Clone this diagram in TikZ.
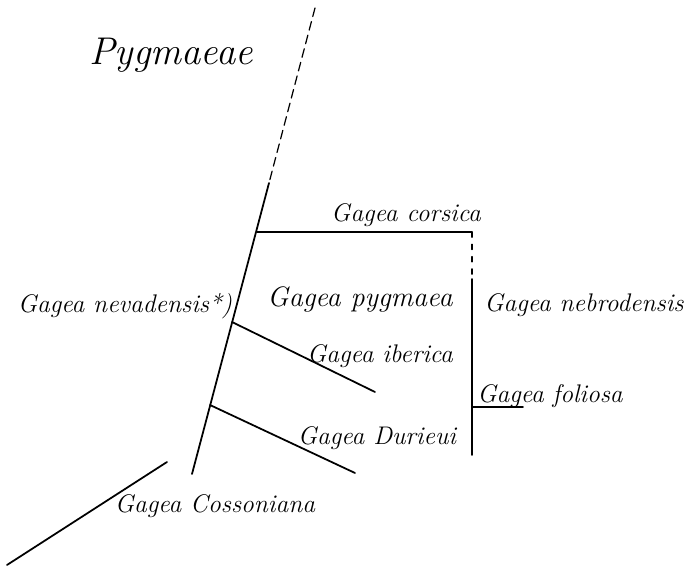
\documentclass[tikz,border=0pt]{standalone}
\usepackage{amsmath, tikz, tkz-euclide, xcolor}

\tikzset{taxon/.style={font=\fontsize{14.5}{16}\selectfont\itshape, anchor=base, inner sep=0pt}}

\begin{document}
\begin{tikzpicture}
    \useasboundingbox (0,0) rectangle (13.96,11.32);
    \tkzDefPoints{6.30/11.16/T, 5.38/7.66/D, 5.14/6.68/C, 4.64/4.88/N, 4.20/3.22/R, 3.84/1.84/B}
    \tkzDefPoints{9.44/6.68/E, 9.44/5.74/F, 9.44/3.18/G, 9.44/2.22/H, 10.46/3.18/K}
    \tkzDefPoints{7.50/3.48/I, 7.10/1.86/U, 0.14/0.02/P, 3.34/2.08/Q}
    \tkzDrawSegments[line width=0.7pt, dash pattern=on 5pt off 3pt](T,D)
    \tkzDrawSegments[line width=0.7pt, dash pattern=on 3pt off 4pt](E,F)
    \tkzDrawSegments[line width=1pt](D,B C,E F,H G,K N,I R,U P,Q)
    \node[taxon, font=\fontsize{22}{24}\selectfont\itshape] (sect) at (3.42,10.02) {Pygmaeae};
    \node[taxon] (corsica) at (8.12,6.88) {Gagea corsica};
    \node[taxon, font=\fontsize{16}{18}\selectfont\itshape] (pygmaea) at (7.20,5.18) {Gagea pygmaea};
    \node[taxon] (nevadensis) at (2.50,5.06) {Gagea nevadensis*)};
    \node[taxon] (nebrodensis) at (11.68,5.08) {Gagea nebrodensis};
    \node[taxon] (iberica) at (7.60,4.06) {Gagea iberica};
    \node[taxon] (foliosa) at (11.00,3.26) {Gagea foliosa};
    \node[taxon] (durieui) at (7.54,2.42) {Gagea Durieui};
    \node[taxon] (cossoniana) at (4.30,1.06) {Gagea Cossoniana};
    \end{tikzpicture}
\end{document}
